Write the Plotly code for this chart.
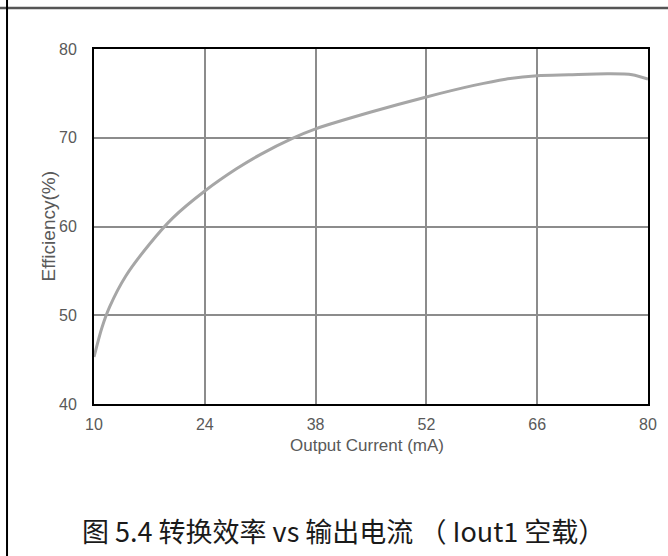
import plotly.graph_objects as go

# Efficiency vs output current (Iout1 unloaded)
current_ma = [10, 11, 12, 14, 17, 20, 24, 28, 31, 35, 38, 45, 52, 58, 62, 66, 70, 75, 78, 80]
efficiency = [45.3, 48.6, 51.0, 54.4, 58.0, 61.0, 64.0, 66.5, 68.1, 69.9, 71.0, 72.9, 74.6, 75.9, 76.6, 77.0, 77.1, 77.2, 77.1, 76.6]

x_ticks = [10, 24, 38, 52, 66, 80]
y_ticks = [40, 50, 60, 70, 80]

x_title = "Output Current (mA)"
y_title = "Efficiency(%)"
caption = "图 5.4 转换效率 vs 输出电流 （ Iout1 空载）"

fig = go.Figure()
fig.add_trace(go.Scatter(
    x=current_ma, y=efficiency, mode="lines",
    line=dict(color="#a6a6a6", width=3, shape="spline", smoothing=0.8),
    hoverinfo="skip", showlegend=False,
))

label_font = dict(family="Liberation Sans, Arial, sans-serif", size=16, color="#595959")

fig.update_xaxes(
    range=[10, 80], tickvals=x_ticks, ticktext=[str(v) for v in x_ticks],
    showgrid=True, gridcolor="#8c8c8c", gridwidth=1.5,
    showline=True, linecolor="black", linewidth=2, mirror=True,
    ticks="", ticklabelstandoff=5, tickfont=label_font, zeroline=False,
)
fig.update_yaxes(
    range=[40, 80], tickvals=y_ticks, ticktext=[str(v) for v in y_ticks],
    showgrid=True, gridcolor="#8c8c8c", gridwidth=1.5,
    showline=True, linecolor="black", linewidth=2, mirror=True,
    ticks="", ticklabelstandoff=12, tickfont=label_font, zeroline=False,
)

# axis titles
fig.add_annotation(text=x_title, xref="paper", yref="paper", x=0.493, y=-0.118,
                   showarrow=False, xanchor="center", yanchor="middle",
                   font=dict(family="Liberation Sans, Arial, sans-serif", size=17, color="#595959"))
fig.add_annotation(text=y_title, xref="paper", yref="paper", x=-0.083, y=0.5,
                   showarrow=False, textangle=-90, xanchor="center", yanchor="middle",
                   font=dict(family="Liberation Sans, Arial, sans-serif", size=19, color="#595959"))

# table-cell frame lines around the figure
fig.add_shape(type="line", xref="paper", yref="paper",
              x0=-0.2, x1=1.1, y0=1.1155, y1=1.1155,
              line=dict(color="#555555", width=2.5))
fig.add_shape(type="line", xref="paper", yref="paper",
              x0=-0.157, x1=-0.157, y0=-0.5, y1=1.2,
              line=dict(color="black", width=2))

fig.add_annotation(
    text=caption, xref="paper", yref="paper", x=0.45, y=-0.355,
    showarrow=False, xanchor="center", yanchor="middle",
    font=dict(family="Noto Sans CJK SC, sans-serif", size=27, color="#1a1a1a"),
)

fig.update_layout(
    width=668, height=556,
    margin=dict(l=94, r=20, t=49, b=152),
    paper_bgcolor="white", plot_bgcolor="white",
)

fig.write_html("out.html")
